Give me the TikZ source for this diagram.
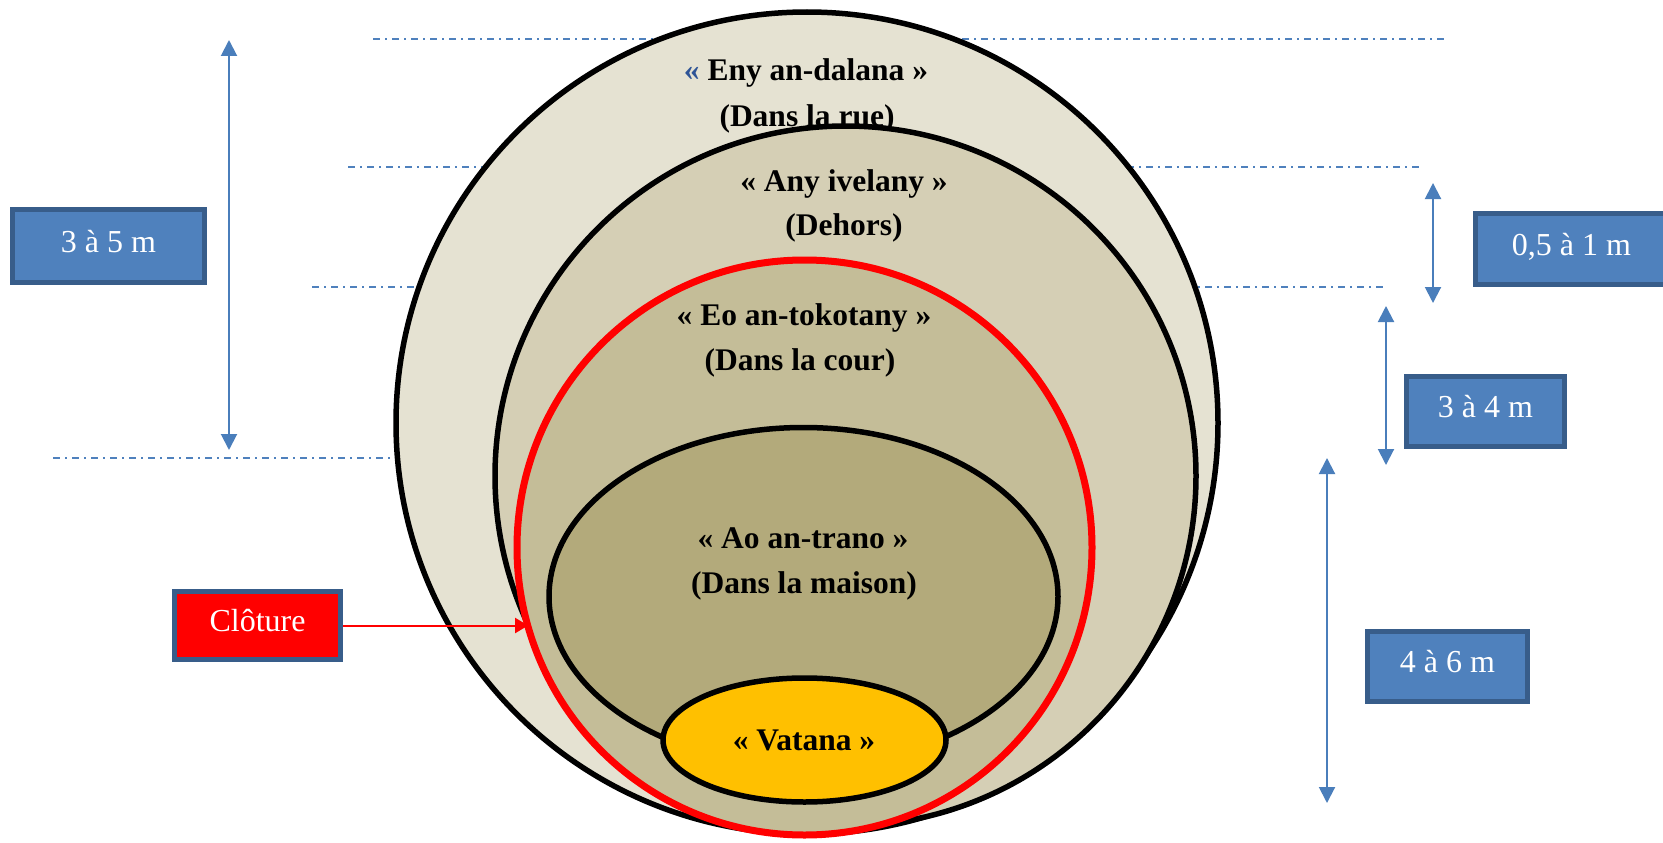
\documentclass[tikz,border=0pt]{standalone}
\usepackage{fontspec}
\setmainfont{Liberation Serif}
\usetikzlibrary{shapes.geometric,arrows.meta}
\definecolor{zoneA}{RGB}{229,226,210}
\definecolor{zoneB}{RGB}{213,207,181}
\definecolor{zoneC}{RGB}{196,189,152}
\definecolor{zoneD}{RGB}{179,170,123}
\definecolor{zoneE}{RGB}{255,192,0}
\definecolor{guideblue}{RGB}{79,129,189}
\definecolor{arrowblue}{RGB}{74,126,187}
\definecolor{boxblue}{RGB}{79,129,189}
\definecolor{boxedge}{RGB}{56,93,138}
\definecolor{quoteblue}{RGB}{46,84,150}
\definecolor{fencered}{RGB}{255,0,0}
\begin{document}
\begin{tikzpicture}[x=1pt,y=-1pt,
  guide/.style={draw=guideblue,line width=2pt,dash pattern=on 7pt off 5pt on 2pt off 5pt},
  zone/.style={ellipse,draw=black,line width=5.5pt,inner sep=0pt,outer sep=0pt},
  lbl/.style={anchor=base,inner sep=0pt,font=\fontsize{31.5}{38}\selectfont\bfseries},
  mbox/.style={draw=boxedge,line width=5pt,fill=boxblue,text=white,inner sep=0pt,
    font=\fontsize{32}{38}\selectfont,text height=22pt,text depth=10pt},
  dimarrow/.style={draw=arrowblue,line width=2pt,
    {Triangle[length=16pt,width=16pt]}-{Triangle[length=16pt,width=16pt]}},
  fencearrow/.style={draw=fencered,line width=2pt,-{Triangle[length=13pt,width=15pt]}}]
\useasboundingbox (0,0) rectangle (1663,843);

% guide lines
\coordinate (g1a) at (373,39);  \coordinate (g1b) at (1445,39);
\coordinate (g2a) at (348,167); \coordinate (g2b) at (1420,167);
\coordinate (g3a) at (312,287); \coordinate (g3b) at (1385,287);
\coordinate (g4a) at (53,458);  \coordinate (g4b) at (400,458);
\draw[guide] (g1a) -- (g1b);
\draw[guide] (g2a) -- (g2b);
\draw[guide] (g3a) -- (g3b);
\draw[guide] (g4a) -- (g4b);

% zones
\node[zone,fill=zoneA,minimum width=822pt,minimum height=822pt] (rue) at (807,423) {};
\node[lbl] (rueA) at (806,81) {\textcolor{quoteblue}{«} Eny an-dalana »};
\node[lbl] (rueB) at (807,126) {(Dans la rue)};

\node[zone,fill=zoneB,minimum width=701pt,minimum height=700pt] (dehors) at (845.5,476) {};
\node[lbl] (dehA) at (844,191) {« Any ivelany »};
\node[lbl] (dehB) at (844,235) {(Dehors)};

\node[zone,draw=fencered,line width=7pt,fill=zoneC,minimum width=575pt,minimum height=575pt] (cour) at (804.5,547.5) {};
\node[lbl] (courA) at (804,325) {« Eo an-tokotany »};
\node[lbl] (courB) at (800,370) {(Dans la cour)};

\node[zone,fill=zoneD,minimum width=509pt,minimum height=338pt] (maison) at (803.5,596.5) {};
\node[lbl] (maisA) at (803,548) {« Ao an-trano »};
\node[lbl] (maisB) at (804,593) {(Dans la maison)};

\node[zone,fill=zoneE,minimum width=283pt,minimum height=124pt] (vatana) at (804.5,740) {};
\node[lbl] (vatA) at (804,750) {« Vatana »};

% dimension arrows
\coordinate (d1t) at (229,40);   \coordinate (d1b) at (229,450);
\coordinate (d2t) at (1433,183); \coordinate (d2b) at (1433,303);
\coordinate (d3t) at (1386,306); \coordinate (d3b) at (1386,465);
\coordinate (d4t) at (1327,458); \coordinate (d4b) at (1327,803);
\draw[dimarrow] (d1t) -- (d1b);
\draw[dimarrow] (d2t) -- (d2b);
\draw[dimarrow] (d3t) -- (d3b);
\draw[dimarrow] (d4t) -- (d4b);

% boxes
\node[mbox,minimum width=192pt,minimum height=73pt] (b35) at (108.5,246) {3 à 5 m};
\node[mbox,minimum width=192pt,minimum height=71pt] (b051) at (1571.5,249) {0,5 à 1 m};
\node[mbox,minimum width=158pt,minimum height=70pt] (b34) at (1485.5,411.5) {3 à 4 m};
\node[mbox,minimum width=160pt,minimum height=70pt] (b46) at (1447.5,666.5) {4 à 6 m};
\node[mbox,fill=fencered,minimum width=166pt,minimum height=68pt] (clo) at (257.5,625.5) {Clôture};

\draw[fencearrow] (clo.east) -- (clo.east -| cour.196);
\end{tikzpicture}
\end{document}
